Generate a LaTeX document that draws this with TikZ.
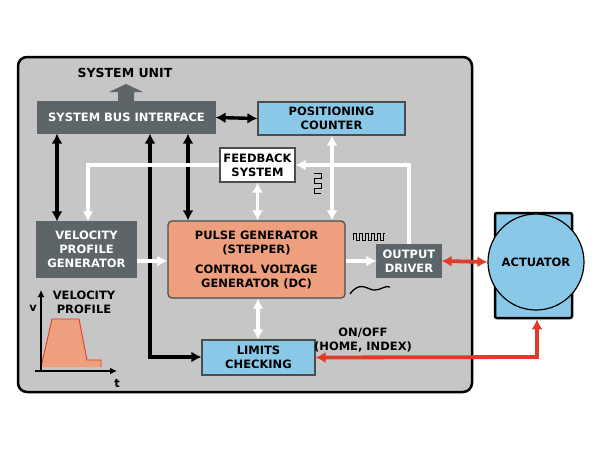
\documentclass[tikz,border=0pt]{standalone}
\usepackage{fontspec}
\setmainfont{DejaVu Sans}
\usetikzlibrary{arrows.meta}
\definecolor{unitgray}{HTML}{C6C6C6}
\definecolor{darkbox}{HTML}{5D6569}
\definecolor{lightblue}{HTML}{8AC8E8}
\definecolor{salmon}{HTML}{EEA07E}
\definecolor{sigred}{HTML}{E03A2A}
\tikzset{>={Latex[length=10pt,width=11pt]}}
\tikzset{
    lbl/.style={font=\fontsize{11.5}{14}\selectfont\bfseries, align=center},
    box/.style={draw=black!70, line width=1.2pt, lbl, inner sep=0pt},
    dark/.style={box, fill=darkbox, draw=darkbox, text=white},
    blue/.style={box, fill=lightblue},
    bk/.style={line width=3.4pt, black},
    wh/.style={line width=3.8pt, white},
    rd/.style={line width=3.8pt, sigred}
}
\begin{document}
\begin{tikzpicture}[x=1pt,y=-1pt]
    \useasboundingbox (0,0) rectangle (600,450);

    % system unit frame
    \draw[line width=2.5pt, fill=unitgray, rounded corners=9pt] (18,57) rectangle (472,392);
    \node[lbl, font=\fontsize{12.5}{14}\selectfont\bfseries] (unit) at (125,73) {SYSTEM UNIT};
    \fill[darkbox] (118,101) -- (118,92) -- (109,92) -- (126,84) -- (143,92) -- (134,92) -- (134,101) -- cycle;

    % blocks
    \node[dark, minimum width=177pt, minimum height=31pt] (bus) at (126.5,117.5) {SYSTEM BUS INTERFACE};
    \node[blue, minimum width=147pt, minimum height=33pt] (count) at (331.5,118.5) {POSITIONING\\COUNTER};
    \node[box, fill=white, minimum width=75pt, minimum height=34pt] (fb) at (257.5,165) {FEEDBACK\\SYSTEM};
    \node[dark, minimum width=99pt, minimum height=55pt] (vel) at (86.5,249.5) {VELOCITY\\PROFILE\\GENERATOR};
    \node[box, fill=salmon, rounded corners=4pt, minimum width=177pt, minimum height=77pt] (pulse) at (256.5,259.5)
        {PULSE GENERATOR\\(STEPPER)\\[6pt]CONTROL VOLTAGE\\GENERATOR (DC)};
    \node[dark, minimum width=64pt, minimum height=32pt] (out) at (409,261) {OUTPUT\\DRIVER};
    \node[blue, minimum width=113pt, minimum height=35pt] (lim) at (258.5,357.5) {LIMITS\\CHECKING};

    % actuator
    \node[draw, line width=2.5pt, fill=lightblue, rounded corners=2pt, minimum width=77pt, minimum height=105pt] (actbox) at (533.5,265.5) {};
    \node[draw, line width=1.2pt, fill=lightblue, circle, minimum size=96pt, lbl] (act) at (536,262) {ACTUATOR};

    % bus links
    \draw[bk, <->] (bus.east) -- (count.west);
    \draw[bk, <->] (bus.south -| 57,0) -- (vel.north -| 57,0);
    \draw[bk, <->] (bus.south -| 188,0) -- (pulse.north -| 188,0);
    \draw[bk, ->] (148.3,357) -- (lim.west |- 0,357);
    \draw[bk, ->] (150,358.7) -- (bus.south -| 150,0);

    % feedback loop
    \draw[wh, ->] (out.north) |- (fb.east);
    \draw[wh, ->] (fb.west) -| (vel.north -| 88,0);
    \draw[wh, <->] (fb.south) -- (pulse.north -| fb.south);
    \draw[wh, <->] (count.south -| 332,0) -- (pulse.north -| 332,0);
    \draw[wh, ->] (vel.east |- 0,261) -- (pulse.west |- 0,261);
    \draw[wh, ->] (pulse.east |- out.west) -- (out.west);
    \draw[wh, <->] (pulse.south -| 258,0) -- (lim.north -| 258,0);

    % actuator links
    \draw[rd, <->] (out.east) -- (act.west);
    \draw[rd, <->] (lim.east) -- (537,357) -- (actbox.south -| 537,0);
    \node[lbl] (onoff) at (363,340) {ON/OFF\\(HOME, INDEX)};

    % signal shapes
    \draw[line width=1pt] (321,193) -- (314,193) -- (314,188) -- (321,188) -- (321,183) -- (314,183) -- (314,178) -- (321,178) -- (321,173) -- (314,173);
    \draw[line width=1pt] (353,240) -- (353,233) \foreach \k in {0,...,4} { -- ++(3,0) -- ++(0,7) -- ++(3,0) -- ++(0,-7) } -- ++(2,0);
    \draw[line width=1.3pt] (350,294) .. controls (360,280) and (368,290) .. (374,290) .. controls (382,290) and (385,285) .. (390,287);

    % velocity profile sketch
    \fill[salmon] (41,367) -- (52,319) -- (79,319) -- (87,360) -- (101,360) -- (101,367) -- cycle;
    \draw[sigred, line width=0.9pt] (41,367) -- (52,319) -- (79,319) -- (87,360) -- (101,360) -- (101,367);
    \draw[line width=1.2pt, -{Latex[length=7pt,width=7pt]}] (41,372) -- (41,290);
    \draw[line width=1.2pt, -{Latex[length=7pt,width=7pt]}] (35,371) -- (117,371);
    \node[lbl] (vlab) at (33,308) {v};
    \node[lbl] (tlab) at (117,383) {t};
    \node[lbl] (vprof) at (84,302) {VELOCITY\\PROFILE};
\end{tikzpicture}
\end{document}
